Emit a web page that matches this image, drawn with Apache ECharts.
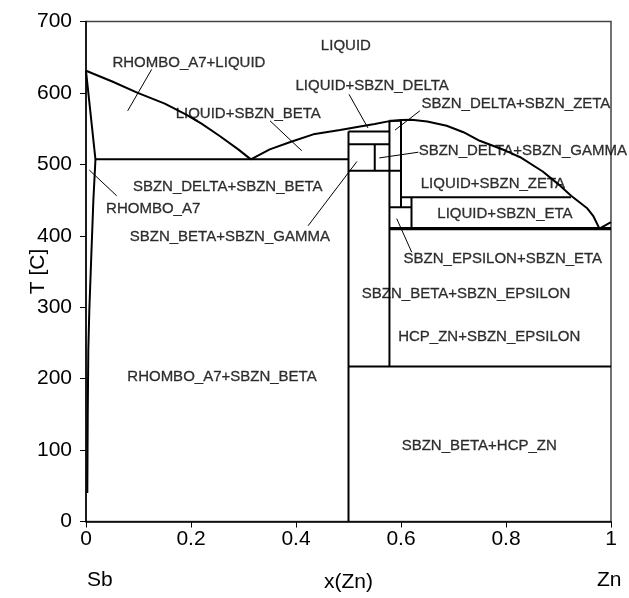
<!DOCTYPE html>
<html>
<head>
<meta charset="utf-8">
<script src="https://cdn.jsdelivr.net/npm/echarts@6/dist/echarts.min.js"></script>
<style>html,body{margin:0;padding:0;background:#fff}#c{width:629px;height:598px}</style>
</head>
<body>
<div id="c"></div>
<script>
// ---- data (x = mole fraction Zn, T in °C) ----
const xTicks = [0, 0.2, 0.4, 0.6, 0.8, 1];
const yTicks = [0, 100, 200, 300, 400, 500, 600, 700];

const liquidusSb = [[0,631],[0.05,616],[0.0985,600],[0.15,585],[0.19,570],[0.22,557],[0.254,540],[0.29,521],[0.314,507]];
const liquidusZn = [[0.314,507],[0.35,521],[0.392,532],[0.433,542],[0.484,548],[0.522,553],[0.55,556.5],[0.578,560.5],[0.6,562],[0.62,562.5],[0.65,560],[0.687,554],[0.719,545],[0.75,533],[0.8,519],[0.827,510],[0.87,490],[0.9,472],[0.924,456],[0.954,439],[0.966,428],[0.978,410]];
const rhomboSolvus = [[0,631],[0.018,507],[0.014,449],[0.01,370],[0.0063,295],[0.0044,240],[0.0033,150],[0.0025,40]];
const znSide = [[0.978,410],[1,419]];

const invariantLines = [
  [[0.018,507],[0.5,507]],
  [[0.5,0],[0.5,546]],
  [[0.5,546],[0.578,546]],
  [[0.5,528],[0.578,528]],
  [[0.55,528],[0.55,491]],
  [[0.5,491],[0.6,491]],
  [[0.578,561],[0.578,217]],
  [[0.6,561],[0.6,440]],
  [[0.578,561],[0.6,561]],
  [[0.6,454],[0.924,454]],
  [[0.578,440],[0.62,440]],
  [[0.62,454],[0.62,410]],
  [[0.5,217],[1,217]]
];
const thickLine = [[0.578,410],[1,410]];

const leaders = [
  [[0.1251,633],[0.0794,575]],
  [[0.501,598],[0.537,551]],
  [[0.3505,561],[0.411,519]],
  [[0.636,575],[0.5886,548]],
  [[0.633,517],[0.5587,509]],
  [[0.0063,492],[0.0585,456]],
  [[0.516,504],[0.423,414]],
  [[0.5918,424],[0.6204,377]]
];

const regionNames = ["LIQUID","RHOMBO_A7+LIQUID","LIQUID+SBZN_DELTA","LIQUID+SBZN_BETA","SBZN_DELTA+SBZN_ZETA","SBZN_DELTA+SBZN_GAMMA","SBZN_DELTA+SBZN_BETA","RHOMBO_A7","SBZN_BETA+SBZN_GAMMA","LIQUID+SBZN_ZETA","LIQUID+SBZN_ETA","SBZN_EPSILON+SBZN_ETA","SBZN_BETA+SBZN_EPSILON","HCP_ZN+SBZN_EPSILON","RHOMBO_A7+SBZN_BETA","SBZN_BETA+HCP_ZN"];
const regionAnchors = [[0.495,666],[0.196,642],[0.545,610],[0.309,571],[0.819,585],[0.832,519],[0.270,469],[0.128,437],[0.274,399],[0.775,473],[0.798,430],[0.794,368],[0.724,319],[0.768,258],[0.259,203],[0.749,105.5]];

const xName = "x(Zn)", leftEnd = "Sb", rightEnd = "Zn", yName = "T [C]";

// ---- chart ----
const FONT = "'Liberation Sans', Arial, sans-serif";
const chart = echarts.init(document.getElementById('c'));
const series = [];
function addLine(pts, w) {
  series.push({type:'line', data:pts, symbol:'none', silent:true, animation:false,
    lineStyle:{color:'#000', width:w}, z:3});
}
addLine(liquidusSb, 2);
addLine(liquidusZn, 2);
addLine(rhomboSolvus, 2);
addLine(znSide, 2);
invariantLines.forEach(s => addLine(s, 2));
addLine(thickLine, 3.2);
leaders.forEach(s => addLine(s, 1));
series.push({type:'scatter', symbolSize:0, animation:false, silent:true, z:10,
  data: regionNames.map((n,i) => ({name:n, value:regionAnchors[i]})),
  label:{show:true, position:'inside', formatter:p=>p.name, color:'#000', fontSize:15, fontFamily:FONT,
    textBorderColor:'#000', textBorderWidth:0.3}
});

chart.setOption({
  animation:false,
  backgroundColor:'#fff',
  grid:{left:86, right:18, top:21.5, bottom:76.5, show:true, borderColor:'#444', borderWidth:1.5,
    containLabel:false, outerBoundsMode:'none'},
  xAxis:{type:'value', min:0, max:1, interval:0.2, name:xName, nameLocation:'middle', nameGap:50,
    nameMoveOverlap:false,
    nameTextStyle:{fontSize:21, fontFamily:FONT, color:'#000'},
    axisLine:{lineStyle:{color:'#000', width:1.5}}, axisTick:{show:true, length:6, lineStyle:{color:'#000'}},
    axisLabel:{fontSize:21, fontFamily:FONT, color:'#000', margin:7}, splitLine:{show:false}},
  yAxis:{type:'value', min:0, max:700, interval:100, name:yName, nameLocation:'middle', nameGap:37,
    nameMoveOverlap:false,
    nameTextStyle:{fontSize:21, fontFamily:FONT, color:'#000'},
    axisLine:{show:true, lineStyle:{color:'#000', width:1.5}}, axisTick:{show:true, length:6, lineStyle:{color:'#000'}},
    axisLabel:{fontSize:21, fontFamily:FONT, color:'#000', margin:14}, splitLine:{show:false}},
  graphic:[
    {type:'text', left:87, top:570, style:{text:leftEnd, font:'21px '+FONT, fill:'#000'}},
    {type:'text', left:597, top:570, style:{text:rightEnd, font:'21px '+FONT, fill:'#000'}}
  ],
  series:series
});
</script>
</body>
</html>
